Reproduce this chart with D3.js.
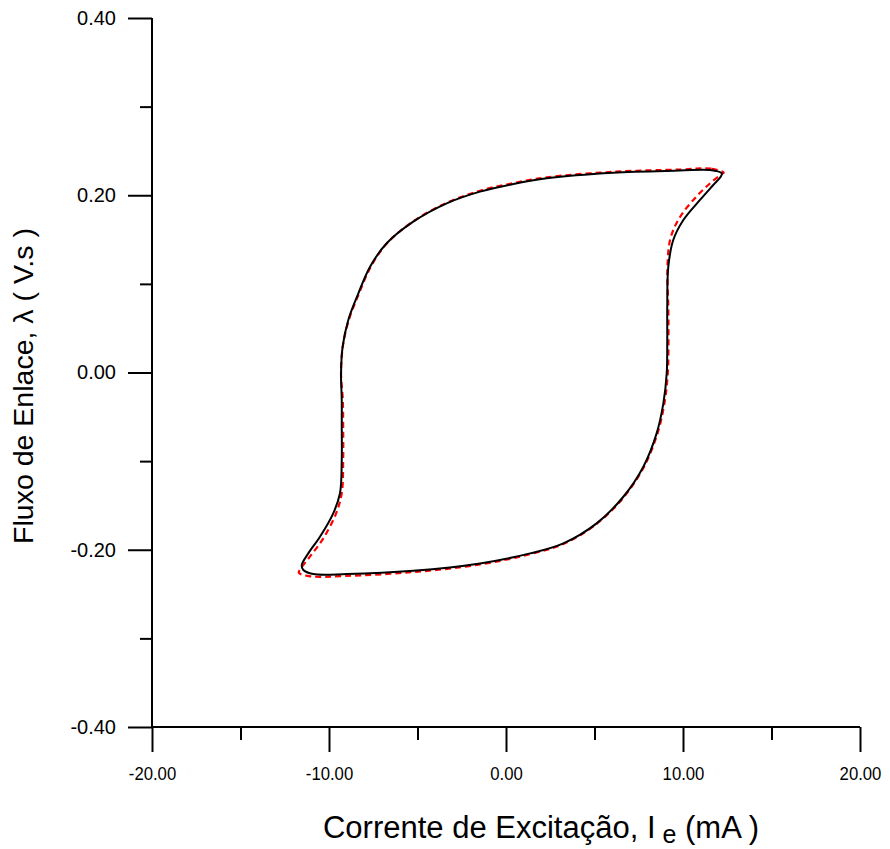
<!DOCTYPE html>
<html><head><meta charset="utf-8">
<script src="https://cdn.jsdelivr.net/npm/d3@7/dist/d3.min.js"></script>
<style>body{margin:0;background:#fff}svg{display:block}text{font-family:"Liberation Sans",Arial,sans-serif;fill:#000}</style>
</head><body>
<svg id="c" width="890" height="849"></svg>
<script>
// Measured loop (black, solid)
const measuredI = [12.19,11.53,9.83,6.06,2.30,0.41,-1.47,-3.35,-5.24,-6.74,-7.68,-8.34,-8.91,-9.23,-9.32,-9.28,-9.28,-9.28,-9.38,-9.76,-10.51,-11.17,-11.54,-11.45,-10.89,-9.00,-5.24,-1.47,1.36,3.24,5.12,6.63,7.76,8.51,8.89,9.08,9.11,9.11,9.17,9.45,10.02,10.96,11.71,12.13];
const measuredL = [0.2248,0.2285,0.2278,0.2255,0.2192,0.2127,0.2041,0.1909,0.1702,0.1458,0.1194,0.0894,0.0593,0.0291,-0.0009,-0.0310,-0.0611,-0.0988,-0.1363,-0.1589,-0.1853,-0.2041,-0.2173,-0.2229,-0.2274,-0.2274,-0.2237,-0.2154,-0.2041,-0.1928,-0.1702,-0.1402,-0.1063,-0.0687,-0.0348,-0.0009,0.0367,0.0743,0.1194,0.1495,0.1721,0.1947,0.2116,0.2210];
// Simulated loop (red, dashed)
const simI = [12.30,11.60,9.83,6.06,2.30,0.41,-1.47,-3.35,-5.24,-6.72,-7.64,-8.30,-8.88,-9.22,-9.32,-9.22,-9.20,-9.20,-9.28,-9.62,-10.35,-11.05,-11.55,-11.70,-11.05,-9.00,-5.24,-1.47,1.36,3.24,5.12,6.66,7.80,8.56,8.95,9.14,9.18,9.17,9.12,9.30,9.85,10.78,11.62,12.20];
const simL = [0.2255,0.2300,0.2290,0.2265,0.2202,0.2137,0.2051,0.1915,0.1705,0.1458,0.1194,0.0894,0.0593,0.0291,-0.0009,-0.0310,-0.0611,-0.0988,-0.1363,-0.1600,-0.1880,-0.2070,-0.2200,-0.2260,-0.2300,-0.2295,-0.2252,-0.2166,-0.2050,-0.1935,-0.1708,-0.1405,-0.1063,-0.0687,-0.0348,-0.0009,0.0367,0.0743,0.1194,0.1520,0.1760,0.1990,0.2150,0.2240];
const xMajor = [-20,-10,0,10,20];
const xMinor = [-15,-5,5,15];
const yMajor = [-0.4,-0.2,0,0.2,0.4];
const yMinor = [-0.3,-0.1,0.1,0.3];

const svg = d3.select("#c");
const x = d3.scaleLinear().domain([-20,20]).range([152,860]);
const y = d3.scaleLinear().domain([-0.4,0.4]).range([727,18]);
const fmt = d => d3.format(".2f")(d).replace("\u2212","-");

// axes
const gx = svg.append("g").attr("transform","translate(0,727)");
gx.call(d3.axisBottom(x).tickValues(xMajor).tickSize(25).tickPadding(15).tickFormat(fmt));
gx.append("g").attr("class","minor").call(d3.axisBottom(x).tickValues(xMinor).tickSize(13).tickFormat(""));
const gy = svg.append("g").attr("transform","translate(152,0)");
gy.call(d3.axisLeft(y).tickValues(yMajor).tickSize(24).tickPadding(12).tickFormat(fmt));
gy.append("g").attr("class","minor").call(d3.axisLeft(y).tickValues(yMinor).tickSize(12).tickFormat(""));
svg.selectAll(".minor .domain").remove();
svg.selectAll(".domain").attr("stroke","#000").attr("stroke-width",2);
svg.selectAll(".tick line").attr("stroke","#000").attr("stroke-width",2);
svg.selectAll(".tick text").attr("font-family","Liberation Sans, Arial, sans-serif").attr("fill","#000");
gy.selectAll(".tick text").attr("font-size",20);
gx.selectAll(".tick text").attr("font-size",19).attr("transform","scale(0.88,1)");
gx.select(".domain").attr("d","M152,0H860");
gy.select(".domain").attr("d","M0,18V727");

// curves
const line = d3.line().x(d=>x(d[0])).y(d=>y(d[1])).curve(d3.curveCatmullRomClosed.alpha(0.5));
const blk = measuredI.map((v,i)=>[v,measuredL[i]]);
const red = simI.map((v,i)=>[v,simL[i]]);
svg.append("path").attr("d",line(red)).attr("fill","none").attr("stroke","#ff0000").attr("stroke-width",2.2).attr("stroke-dasharray","6,4");
svg.append("path").attr("d",line(blk)).attr("fill","none").attr("stroke","#000").attr("stroke-width",2);

// titles
const xt = svg.append("text").attr("x",541).attr("y",838).attr("text-anchor","middle").attr("font-size",31);
xt.append("tspan").text("Corrente de Excitação, I");
xt.append("tspan").attr("dy",5).attr("font-size",25).text(" e");
xt.append("tspan").attr("dy",-5).text(" (mA )");
svg.append("text").attr("transform","translate(33,386) rotate(-90)").attr("text-anchor","middle").attr("font-size",28.5).text("Fluxo de Enlace, λ ( V.s )");
</script>
</body></html>
